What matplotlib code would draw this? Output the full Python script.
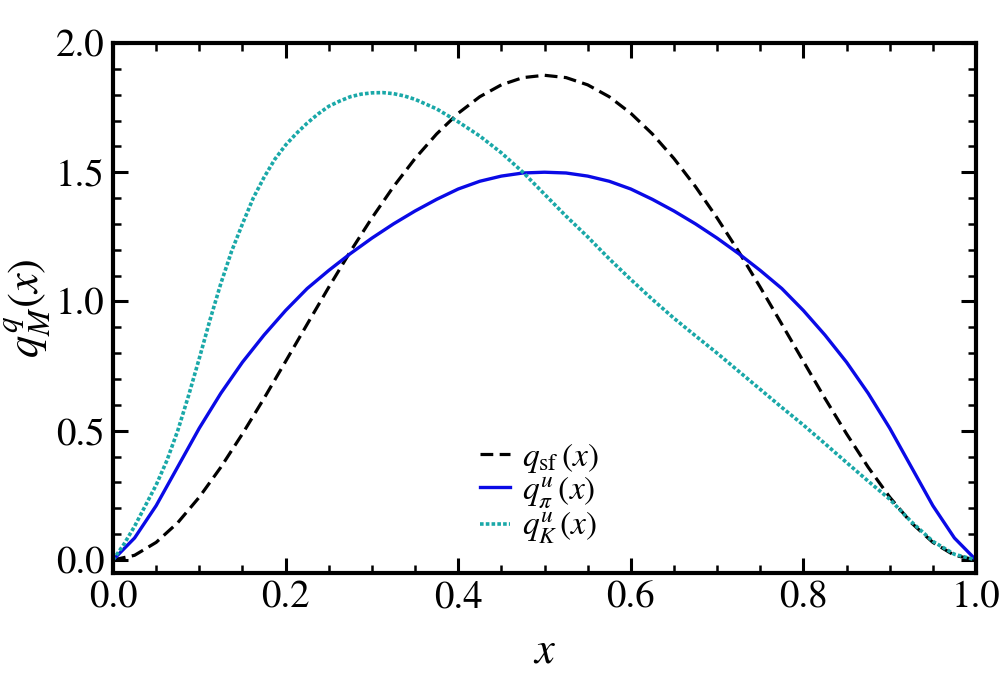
#!/usr/bin/env python3

import numpy as np
import matplotlib
matplotlib.use("Agg")
import matplotlib.pyplot as plt
from matplotlib.ticker import MultipleLocator

# x grid the symmetric curves were read on
x = np.linspace(0.0, 1.0, 41)

# q_sf(x)
q_sf = [0.000, 0.018, 0.068, 0.144, 0.243, 0.359, 0.488, 0.625, 0.768, 0.912,
        1.055, 1.193, 1.323, 1.444, 1.553, 1.648, 1.728, 1.792, 1.838, 1.866,
        1.875,
        1.866, 1.838, 1.792, 1.728, 1.648, 1.553, 1.444, 1.323, 1.193, 1.055,
        0.912, 0.768, 0.625, 0.488, 0.359, 0.243, 0.144, 0.068, 0.018, 0.000]

# pion u-quark (blue solid)
q_pi = [0.000, 0.085, 0.210, 0.360, 0.510, 0.645, 0.765, 0.870, 0.965, 1.050,
        1.120, 1.185, 1.245, 1.300, 1.350, 1.395, 1.435, 1.465, 1.485, 1.497,
        1.500,
        1.497, 1.485, 1.465, 1.435, 1.395, 1.350, 1.300, 1.245, 1.185, 1.120,
        1.050, 0.965, 0.870, 0.765, 0.645, 0.510, 0.360, 0.210, 0.085, 0.000]

# kaon u-quark (cyan dotted), read a bit finer where it bends
x_K = [0.0, 0.0125, 0.025, 0.0375, 0.05, 0.0625, 0.075, 0.0875, 0.1, 0.1125,
       0.125, 0.1375, 0.15, 0.1625, 0.175, 0.1875, 0.2, 0.2125, 0.225, 0.2375,
       0.25, 0.2625, 0.275, 0.2875, 0.3, 0.3125, 0.325, 0.3375, 0.35, 0.375,
       0.4, 0.425, 0.45, 0.475, 0.5, 0.525, 0.55, 0.575, 0.6, 0.625,
       0.65, 0.675, 0.7, 0.725, 0.75, 0.775, 0.8, 0.825, 0.85, 0.875,
       0.9, 0.925, 0.95, 0.975, 1.0]
q_K = [0.000, 0.060, 0.130, 0.210, 0.290, 0.385, 0.500, 0.635, 0.780, 0.930,
       1.070, 1.195, 1.300, 1.400, 1.480, 1.550, 1.605, 1.650, 1.690, 1.725,
       1.755, 1.775, 1.792, 1.802, 1.807, 1.808, 1.804, 1.795, 1.782, 1.745,
       1.695, 1.640, 1.575, 1.500, 1.415, 1.330, 1.250, 1.165, 1.085, 1.008,
       0.935, 0.867, 0.800, 0.730, 0.660, 0.590, 0.522, 0.450, 0.377, 0.305,
       0.235, 0.148, 0.072, 0.022, 0.000]

plt.rcParams["font.family"] = "STIXGeneral"
plt.rcParams["mathtext.fontset"] = "stix"

fig = plt.figure(figsize=(10, 6.82), dpi=100)
ax = fig.add_axes([0.113, 0.16, 0.863, 0.777])

ax.plot(x, q_sf, color="black", lw=2.3, ls=(0, (4.0, 2.0)), label=r"$q_{\rm sf}\,(x)$")
ax.plot(x, q_pi, color="#0a0ae6", lw=2.4, label=r"$q^u_\pi\,(x)$")
ax.plot(x_K, q_K, color="#1aa8a8", lw=2.6, ls=(0, (1.0, 0.6)), label=r"$q^u_K\,(x)$")

ax.set_xlim(0, 1)
ax.set_ylim(-0.05, 2.0)
ax.xaxis.set_major_locator(MultipleLocator(0.2))
ax.xaxis.set_minor_locator(MultipleLocator(0.05))
ax.yaxis.set_major_locator(MultipleLocator(0.5))
ax.yaxis.set_minor_locator(MultipleLocator(0.1))
ax.tick_params(which="both", direction="in", top=True, right=True, labelsize=28)
ax.tick_params(which="major", length=11, width=2.2, pad=6)
ax.tick_params(which="minor", length=6, width=1.8)
for s in ax.spines.values():
    s.set_linewidth(3.0)

ax.set_xlabel(r"$x$", fontsize=32, labelpad=12)
ax.set_ylabel(r"$q^q_M(x)$", fontsize=32, labelpad=2)

ax.legend(loc="center left", bbox_to_anchor=(0.41, 0.15), frameon=False, fontsize=24,
          handlelength=0.9, handletextpad=0.35, labelspacing=0.0, borderaxespad=0)

fig.savefig("out.png", dpi=100)
